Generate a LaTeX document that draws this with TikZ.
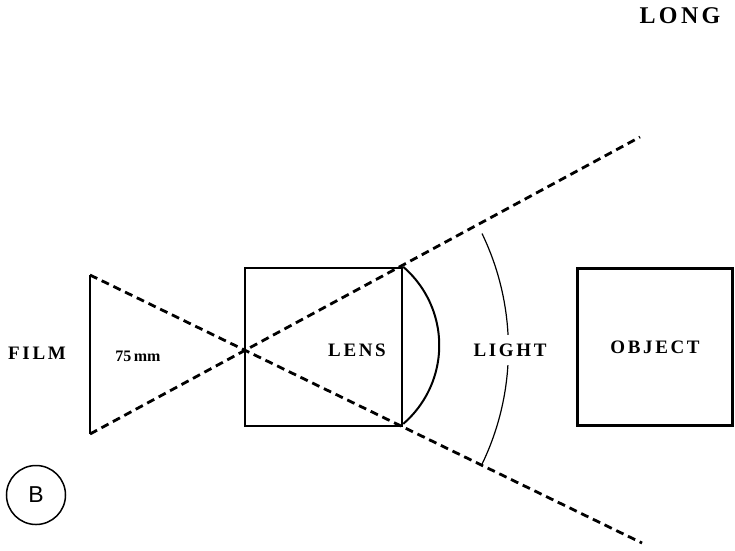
\documentclass[tikz,border=0pt]{standalone}
\usepackage{fontspec}
\newfontfamily\capsfont{Liberation Serif}[LetterSpace=14]
\newfontfamily\numfont{Liberation Serif}
\newfontfamily\tagfont{Liberation Sans}
\begin{document}
\begin{tikzpicture}[x=1pt,y=-1pt,
  frame/.style={draw, line width=2.4pt, inner sep=0pt},
  ray/.style={line width=2.8pt, dash pattern=on 8pt off 5pt},
  label/.style={font=\capsfont\bfseries\fontsize{19}{19}\selectfont, inner sep=0pt},
]
\useasboundingbox[fill=white] (0,0) rectangle (735,550);

% film plane and end points of the two rays
\coordinate (filmtop) at (90,275);
\coordinate (filmbot) at (90,434);
\coordinate (raytop) at (640,137);
\coordinate (raybot) at (642,543);

% lens barrel and subject
\node[frame, minimum width=157pt, minimum height=158pt] (lensbox) at (323.5,347) {};
\node[frame, minimum width=155pt, minimum height=157pt, label] (object) at (655,347) {OBJECT};

% rays crossing at the lens
\draw[ray] (filmtop) -- (raybot);
\draw[ray] (filmbot) -- (raytop);

% film plane
\draw[line width=2.4pt] (filmtop) -- (filmbot);

% front element of the lens
\draw[line width=2pt] (lensbox.north east) arc[start angle=49.3, end angle=-49.3, radius=103.6pt];

% wavefront of the light
\draw[line width=1.2pt] (482,233.5) arc[start angle=25.8, end angle=-25.8, radius=265pt];

% labels
\node[label] (film) at (37,353) {FILM};
\node[font=\numfont\bfseries\fontsize{16}{16}\selectfont, inner sep=0pt] (focal) at (138,356) {75\hspace{2.5pt}mm};
\node[label] (lens) at (357,350) {LENS};
\node[label, fill=white, inner xsep=2pt, inner ysep=9pt] (light) at (510,350) {LIGHT};
\node[font=\capsfont\bfseries\fontsize{24}{24}\selectfont, inner sep=0pt] (long) at (680,16) {LONG};

% panel tag
\node[circle, draw, line width=1.5pt, minimum size=59pt, inner sep=0pt,
      font=\tagfont\fontsize{23}{23}\selectfont] (tag) at (36,495) {B};
\end{tikzpicture}
\end{document}
